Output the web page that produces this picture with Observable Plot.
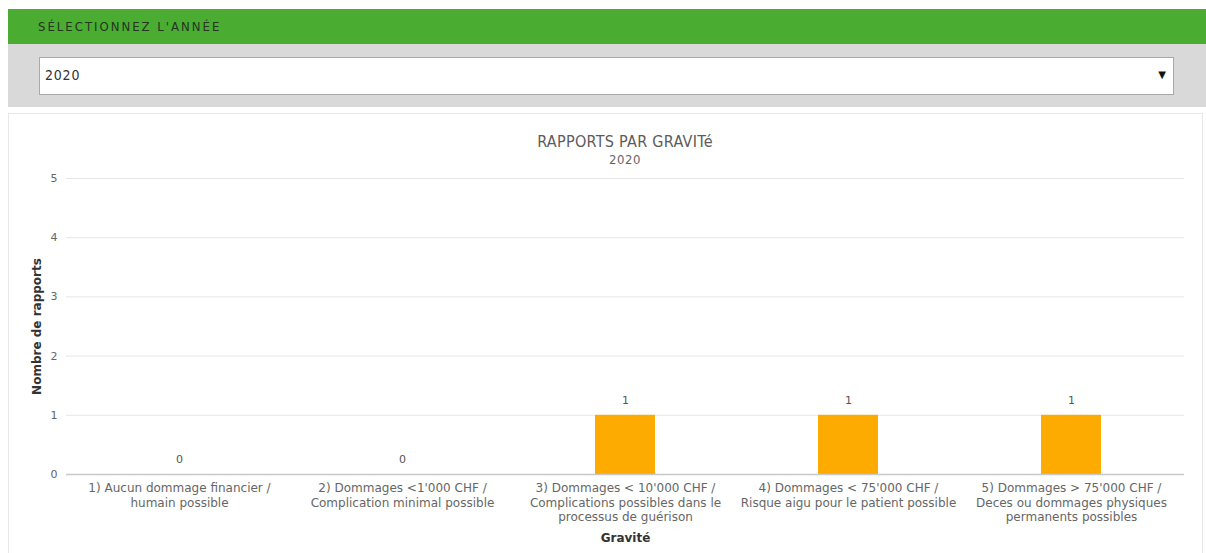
<!DOCTYPE html>
<html>
<head>
<meta charset="utf-8">
<script src="https://cdn.jsdelivr.net/npm/d3@7"></script>
<script src="https://cdn.jsdelivr.net/npm/@observablehq/plot@0.6"></script>
<style>
  html, body { margin: 0; padding: 0; background: #fff; width: 1206px; height: 553px; overflow: hidden; position: relative; }
  .hdr { position: absolute; left: 8px; top: 9px; width: 1198px; height: 35px; background: #4aad32; }
  .hdr span { position: absolute; left: 30px; top: 10px; font: 13px "Liberation Sans Narrow", "DejaVu Sans Condensed", sans-serif; letter-spacing: 2px; color: #243520; }
  .panel { position: absolute; left: 8px; top: 44px; width: 1198px; height: 63px; background: #d9d9d9; }
  .sel { position: absolute; left: 39px; top: 57px; width: 1133px; height: 36px; background: #fff; border: 1px solid #a9a9a9; }
  .sel .v { position: absolute; left: 5px; top: 9px; font: 14px "Liberation Sans Narrow", "DejaVu Sans Condensed", sans-serif; color: #333; letter-spacing: 0.8px; }
  .sel .a { position: absolute; right: 7px; top: 11px; font: 10px "DejaVu Sans", sans-serif; color: #111; }
  .card { position: absolute; left: 8px; top: 113px; width: 1193px; height: 450px; border: 1px solid #e8e8e8; background: #fff; }
  .title { position: absolute; left: 0; width: 1250px; top: 132px; text-align: center; font: 16px "Liberation Sans Narrow", "DejaVu Sans Condensed", sans-serif; color: #5c5c5c; letter-spacing: 0.3px; }
  .sub { position: absolute; left: 0; width: 1250px; top: 152px; text-align: center; font: 13px "Liberation Sans Narrow", "DejaVu Sans Condensed", sans-serif; color: #666; letter-spacing: 0.5px; }
  #chart { position: absolute; left: 0; top: 165px; }
</style>
</head>
<body>
<div class="hdr"><span>SÉLECTIONNEZ L'ANNÉE</span></div>
<div class="panel"></div>
<div class="sel"><span class="v">2020</span><span class="a">▼</span></div>
<div class="card"></div>
<div class="title">RAPPORTS PAR GRAVITé</div>
<div class="sub">2020</div>
<div id="chart"></div>
<script>
const categories = [
  "1) Aucun dommage financier / humain possible",
  "2) Dommages <1'000 CHF / Complication minimal possible",
  "3) Dommages < 10'000 CHF / Complications possibles dans le processus de guérison",
  "4) Dommages < 75'000 CHF / Risque aigu pour le patient possible",
  "5) Dommages > 75'000 CHF / Deces ou dommages physiques permanents possibles"
];
const tickLabels = [
  "1) Aucun dommage financier /\nhumain possible",
  "2) Dommages <1'000 CHF /\nComplication minimal possible",
  "3) Dommages < 10'000 CHF /\nComplications possibles dans le\nprocessus de guérison",
  "4) Dommages < 75'000 CHF /\nRisque aigu pour le patient possible",
  "5) Dommages > 75'000 CHF /\nDeces ou dommages physiques\npermanents possibles"
];
const counts = [0, 0, 1, 1, 1];
const yTicks = [0, 1, 2, 3, 4, 5];
const yLabel = "Nombre de rapports";
const xLabel = "Gravité";

const data = categories.map((c, i) => ({cat: c, n: counts[i]}));
const labelOf = new Map(categories.map((c, i) => [c, tickLabels[i]]));
const font = "'DejaVu Sans', Verdana, sans-serif";

const chart = Plot.plot({
  width: 1206,
  height: 388,
  marginLeft: 66,
  marginRight: 22,
  marginTop: 13,
  marginBottom: 79,
  style: {fontFamily: font, fontSize: "11px", background: "transparent"},
  x: {domain: categories, paddingInner: 0.73, paddingOuter: 0.365},
  y: {domain: [0, 5]},
  marks: [
    Plot.ruleY(yTicks.filter(d => d > 0), {stroke: "#e6e6e6", strokeWidth: 1}),
    Plot.barY(data, {x: "cat", y: "n", fill: "#fdab00"}),
    Plot.ruleY([0], {stroke: "#c8c8c8", strokeWidth: 1.5}),
    Plot.text(data, {x: "cat", y: "n", text: d => String(d.n), dy: -15, fill: "#555", fontSize: 11}),
    Plot.axisY({ticks: yTicks, tickFormat: d3.format("d"), tickSize: 0, tickPadding: 9, label: null, fill: "#666", fontSize: 11}),
    Plot.axisX({tickSize: 0, tickPadding: 7, label: null, tickFormat: d => labelOf.get(d), fill: "#666", fontSize: 12, lineHeight: 1.22}),
    Plot.text([yLabel], {frameAnchor: "left", dx: -29, rotate: -90, textAnchor: "middle", text: d => d, fontWeight: "bold", fill: "#333", fontSize: 12}),
    Plot.text([xLabel], {frameAnchor: "bottom", dy: 67, text: d => d, fontWeight: "bold", fill: "#333", fontSize: 12})
  ]
});
document.getElementById("chart").appendChild(chart);
</script>
</body>
</html>
